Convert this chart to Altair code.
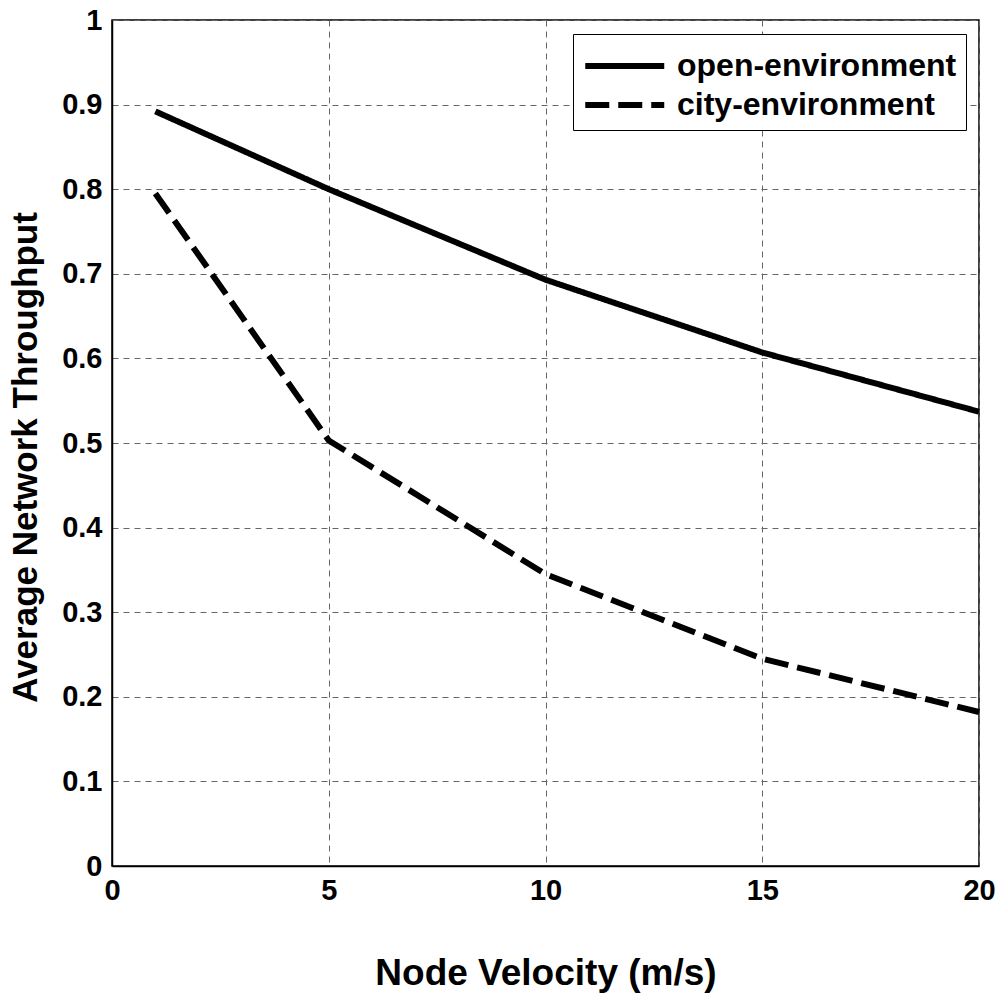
import altair as alt
import pandas as pd

velocity = [1, 5, 10, 15, 20]
open_env = [0.892, 0.800, 0.693, 0.607, 0.537]
city_env = [0.795, 0.503, 0.345, 0.245, 0.182]
series_names = ["open-environment", "city-environment"]

rows = []
for name, vals in zip(series_names, [open_env, city_env]):
    for v, t in zip(velocity, vals):
        rows.append({"velocity": v, "throughput": t, "series": name})
df = pd.DataFrame(rows)

FONT = "Liberation Sans"

lines = alt.Chart(df).mark_line(strokeWidth=6, color="black", strokeCap="butt").encode(
    x=alt.X("velocity:Q", scale=alt.Scale(domain=[0, 20], nice=False),
            axis=alt.Axis(values=[0, 5, 10, 15, 20], title="Node Velocity (m/s)",
                          labelFlush=False, titlePadding=50, titleFontSize=37)),
    y=alt.Y("throughput:Q", scale=alt.Scale(domain=[0, 1], nice=False),
            axis=alt.Axis(values=[0, 0.1, 0.2, 0.3, 0.4, 0.5, 0.6, 0.7, 0.8, 0.9, 1],
                          format=".1~f", title="Average Network Throughput",
                          labelFlush=False, titlePadding=18, titleY=437,
                          titleFontSize=35)),
    strokeDash=alt.StrokeDash(
        "series:N",
        scale=alt.Scale(domain=series_names, range=[[1, 0], [24, 9]]),
        legend=alt.Legend(
            title=None, orient="none", legendX=461, legendY=14,
            symbolType="M-1,0H3", symbolSize=1560, symbolStrokeWidth=6,
            symbolStrokeColor="black", labelFontSize=32, labelFont=FONT,
            labelFontWeight="bold", labelColor="black", labelOffset=49,
            strokeColor="black", fillColor="white", padding=9,
            rowPadding=0, labelLimit=400,
        ),
    ),
    detail="series:N",
)

chart = lines.properties(
    width=867, height=846,
    autosize=alt.AutoSizeParams(type="none"),
    padding={"left": 112, "top": 20, "right": 22, "bottom": 128},
    background="white",
).configure_view(
    stroke="black", strokeWidth=1.5
).configure_axis(
    grid=True, gridColor="#666", gridDash=[6, 5], gridWidth=1,
    domain=True, domainColor="black", domainWidth=1.5,
    ticks=False, labelPadding=10,
    labelFont=FONT, labelFontSize=29, labelFontWeight="bold", labelColor="black",
    titleFont=FONT, titleFontSize=36, titleFontWeight="bold", titleColor="black",
)

chart.save("out.html", embed_options={"renderer": "svg", "actions": False})
